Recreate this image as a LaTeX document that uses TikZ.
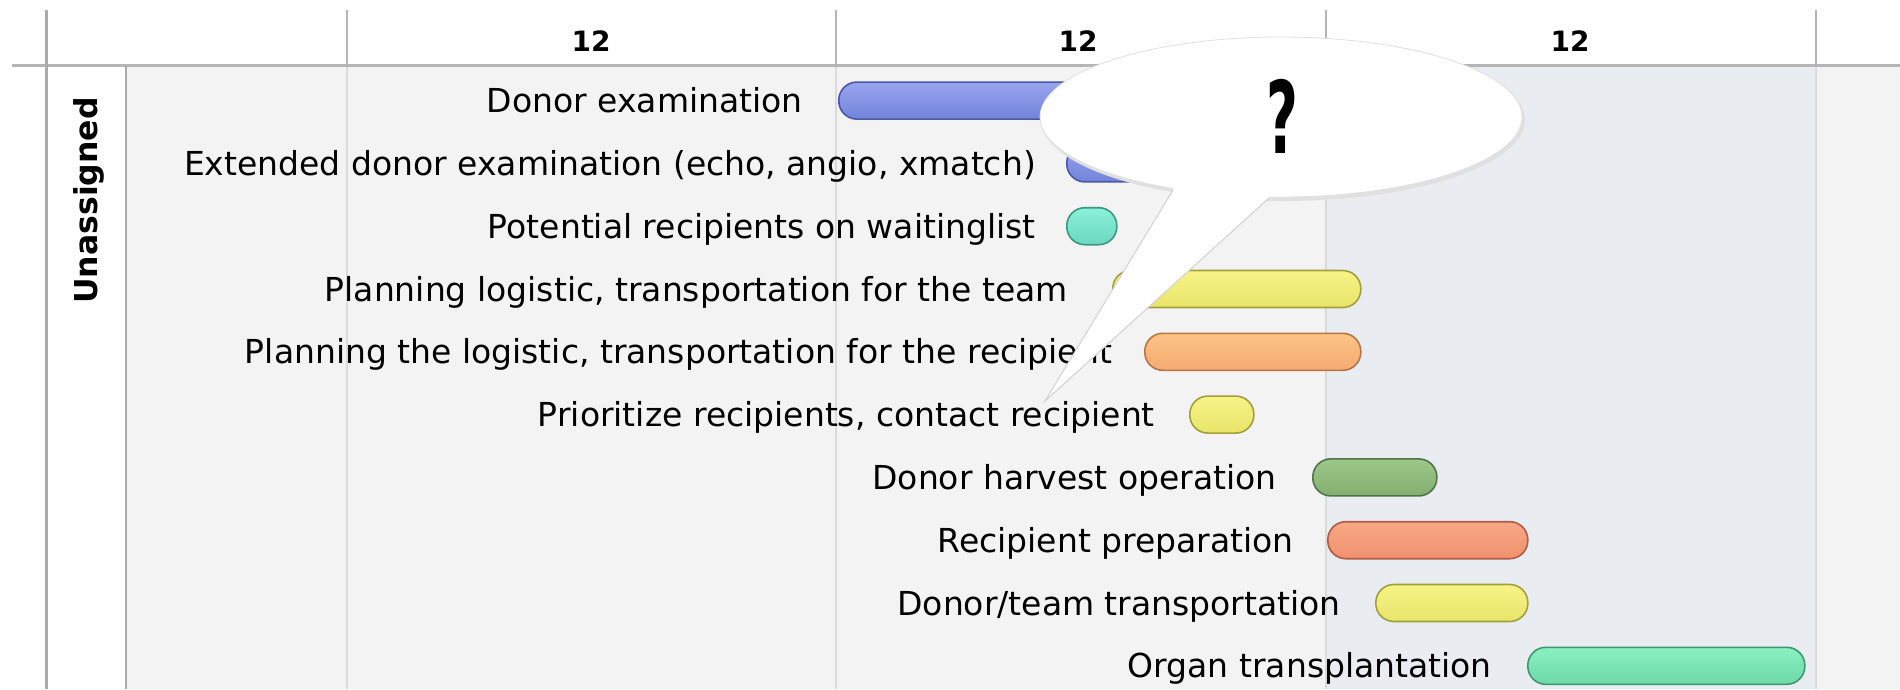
\documentclass[tikz,border=0pt]{standalone}
\usepackage{fontspec}
\setmainfont{DejaVu Sans}
\usetikzlibrary{shapes.geometric}
\definecolor{panel}{HTML}{F3F3F3}
\definecolor{hilite}{HTML}{E9ECF1}
\definecolor{framec}{HTML}{ABABAB}
\definecolor{gridc}{HTML}{DADADA}
\definecolor{hdrc}{HTML}{B5B5B5}
\definecolor{blueT}{HTML}{98A6F0}\definecolor{blueB}{HTML}{7282D8}\definecolor{blueD}{HTML}{4C58A6}
\definecolor{tealT}{HTML}{8AF0DA}\definecolor{tealB}{HTML}{6CD8BE}\definecolor{tealD}{HTML}{3E9780}
\definecolor{yelT}{HTML}{F6F486}\definecolor{yelB}{HTML}{E8E46A}\definecolor{yelD}{HTML}{A2A03E}
\definecolor{oraT}{HTML}{FCC486}\definecolor{oraB}{HTML}{F4AA70}\definecolor{oraD}{HTML}{BB7444}
\definecolor{grnT}{HTML}{9CC888}\definecolor{grnB}{HTML}{82AE70}\definecolor{grnD}{HTML}{52744A}
\definecolor{salT}{HTML}{F8A886}\definecolor{salB}{HTML}{F0906C}\definecolor{salD}{HTML}{AE5C46}
\definecolor{minT}{HTML}{8AF0C2}\definecolor{minB}{HTML}{6CD8A8}\definecolor{minD}{HTML}{3E9870}
\tikzset{
  taskbar/.style={rectangle, rounded corners=18pt, minimum height=37pt, inner sep=0pt, anchor=west, line width=1.6pt},
  bluebar/.style={taskbar, top color=blueT, bottom color=blueB, draw=blueD},
  tealbar/.style={taskbar, top color=tealT, bottom color=tealB, draw=tealD},
  yelbar/.style={taskbar, top color=yelT, bottom color=yelB, draw=yelD},
  orabar/.style={taskbar, top color=oraT, bottom color=oraB, draw=oraD},
  grnbar/.style={taskbar, top color=grnT, bottom color=grnB, draw=grnD},
  salbar/.style={taskbar, top color=salT, bottom color=salB, draw=salD},
  minbar/.style={taskbar, top color=minT, bottom color=minB, draw=minD},
  lbl/.style={anchor=base east, inner sep=0pt, yshift=-12pt, font=\fontsize{33}{38}\selectfont, text=black},
  hdr/.style={inner sep=0pt, font=\fontsize{28}{32}\selectfont\bfseries},
  gridline/.style={draw=gridc, line width=1.5pt},
  hdrline/.style={draw=hdrc, line width=2pt},
  bubedge/.style={draw=black!18, line width=1pt},
}
\begin{document}
\begin{tikzpicture}[x=1pt,y=-1pt]
\useasboundingbox (0,0) rectangle (1900,689);
\fill[white] (0,0) rectangle (1900,689);
\fill[panel] (126,65) rectangle (1900,689);
\fill[hilite] (1326,65) rectangle (1816,689);
% grid
\foreach \gx in {347,836,1326,1816}{
  \draw[gridline] (\gx,65) -- (\gx,689);
  \draw[hdrline] (\gx,10) -- (\gx,65);
}
\draw[draw=hdrc, line width=3pt] (12,65) -- (1900,65);
\draw[draw=framec, line width=3pt] (46,10) -- (46,689);
\draw[draw=framec, line width=2.5pt] (126,65) -- (126,689);
% header
\node[hdr] (h1) at (591,41) {12};
\node[hdr] (h2) at (1078,41) {12};
\node[hdr] (h3) at (1570,41) {12};
% lane label
\node[fill=white, minimum width=41pt, minimum height=237pt, inner sep=0pt] (ubox) at (87.5,200.5) {};
\node[rotate=90, inner sep=0pt, font=\fontsize{31.5}{36}\selectfont\bfseries] (ulabel) at (89,200.5) {Unassigned};
% bars
\node[bluebar, minimum width=300pt] (b1) at (838,100.6) {};
\node[bluebar, minimum width=110pt] (b2) at (1066,163.4) {};
\node[tealbar, minimum width=50pt] (b3) at (1066,226.2) {};
\node[yelbar, minimum width=248pt] (b4) at (1112,289) {};
\node[orabar, minimum width=216pt] (b5) at (1144,351.8) {};
\node[yelbar, minimum width=64pt] (b6) at (1189,414.6) {};
\node[grnbar, minimum width=124pt] (b7) at (1312,477.4) {};
\node[salbar, minimum width=200pt] (b8) at (1327,540.2) {};
\node[yelbar, minimum width=152pt] (b9) at (1375,603) {};
\node[minbar, minimum width=277pt] (b10) at (1527,665.8) {};
% labels
\node[lbl] (t1) at (803,100.6) {Donor examination};
\node[lbl] (t2) at (1036,163.4) {Extended donor examination (echo, angio, xmatch)};
\node[lbl] (t3) at (1036,226.2) {Potential recipients on waitinglist};
\node[lbl] (t4) at (1068,289) {Planning logistic, transportation for the team};
\node[lbl] (t5) at (1112,351.8) {Planning the logistic, transportation for the recipient};
\node[lbl] (t6) at (1155,414.6) {Prioritize recipients, contact recipient};
\node[lbl] (t7) at (1277,477.4) {Donor harvest operation};
\node[lbl] (t8) at (1294,540.2) {Recipient preparation};
\node[lbl] (t9) at (1341,603) {Donor/team transportation};
\node[lbl] (t10) at (1492,665.8) {Organ transplantation};
% speech bubble
\fill[black!12] (1283,120) ellipse [x radius=242pt, y radius=81pt];
\node[ellipse, fill=white, draw=black!12, line width=0.8pt, minimum width=482pt, minimum height=160pt, inner sep=0pt] (bubble) at (1281,117) {};
\coordinate (tip) at (1045,401);
\coordinate (tl) at (1173,190);
\coordinate (tr) at (1269,198);
\fill[white] (1178,175) -- (tl) -- (tip) -- (tr) -- (1265,180) -- cycle;
\draw[bubedge] (tl) -- (tip) -- (tr);
\node[inner sep=0pt, font=\fontsize{100}{100}\selectfont\bfseries] (q) at (1282,116) {\scalebox{0.55}[1]{?}};
\end{tikzpicture}
\end{document}
